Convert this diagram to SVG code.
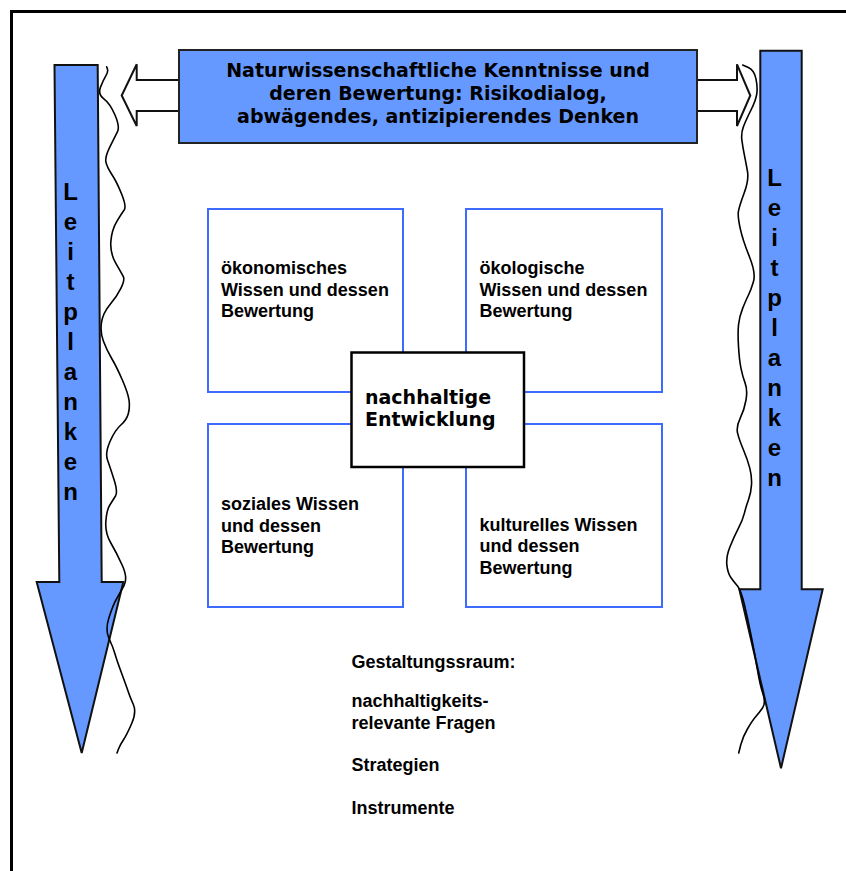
<svg xmlns="http://www.w3.org/2000/svg" width="846" height="871" viewBox="0 0 846 871">
<style>
.blue{fill:#6699FF;stroke:#111;stroke-width:2;stroke-linejoin:miter}
.hollow{fill:#fff;stroke:#111;stroke-width:2}
.quad{fill:#fff;stroke:#3D6BFF;stroke-width:2}
.wave{fill:none;stroke:#000;stroke-width:1.6;stroke-linejoin:round;stroke-linecap:round}
.t{font-family:"Liberation Sans",Arial,sans-serif;font-weight:bold;font-size:18px;fill:#000}
.v{font-family:"DejaVu Sans",Verdana,sans-serif;font-weight:bold;font-size:19px;fill:#000}
.lp{font-family:"Liberation Sans",Arial,sans-serif;font-weight:bold;font-size:24px;fill:#000;text-anchor:middle}
</style>
<rect width="846" height="871" fill="#fff"/>
<path d="M11.5,871 V11.5 H846" fill="none" stroke="#000" stroke-width="3"/>

<g id="arrow-left">
<polygon class="blue" points="54.5,65 97.7,65 101.7,582 123.3,582 81.7,753 36.7,582 59.3,582"/>
<text class="lp" x="70.5" y="200">L</text>
<text class="lp" x="70.5" y="230">e</text>
<text class="lp" x="70.5" y="260">i</text>
<text class="lp" x="70.5" y="290">t</text>
<text class="lp" x="70.5" y="320">p</text>
<text class="lp" x="70.5" y="350">l</text>
<text class="lp" x="70.5" y="380">a</text>
<text class="lp" x="70.5" y="410">n</text>
<text class="lp" x="70.5" y="440">k</text>
<text class="lp" x="70.5" y="470">e</text>
<text class="lp" x="70.5" y="500">n</text>
</g>

<g id="arrow-right">
<polygon class="blue" points="760.3,50.7 801.7,50.7 801.7,589.3 822.7,589.3 781,768.3 739.3,589.3 760.3,589.3"/>
<text class="lp" x="774.5" y="186">L</text>
<text class="lp" x="774.5" y="216">e</text>
<text class="lp" x="774.5" y="246">i</text>
<text class="lp" x="774.5" y="276">t</text>
<text class="lp" x="774.5" y="306">p</text>
<text class="lp" x="774.5" y="336">l</text>
<text class="lp" x="774.5" y="366">a</text>
<text class="lp" x="774.5" y="396">n</text>
<text class="lp" x="774.5" y="426">k</text>
<text class="lp" x="774.5" y="456">e</text>
<text class="lp" x="774.5" y="486">n</text>
</g>

<g id="connectors">
<polygon class="hollow" points="179,80 136.7,80 136.7,64.3 121.7,95.5 136.7,126 136.7,111 179,111"/>
<polygon class="hollow" points="697,80 737,80 737,64.3 750.3,95.5 737,126 737,111 697,111"/>
</g>

<g id="top-box">
<rect x="179" y="50" width="518" height="93" fill="#6699FF" stroke="#222" stroke-width="2"/>
<text class="v" text-anchor="middle"><tspan x="438" y="77">Naturwissenschaftliche Kenntnisse und</tspan><tspan x="438" y="100">deren Bewertung: Risikodialog,</tspan><tspan x="438" y="123">abwägendes, antizipierendes Denken</tspan></text>
</g>

<g id="waves">
<path class="wave" d="M106.7,66.7 L107.5,69.2 Q108.3,71.7 105.8,75.85 Q103.3,80 100.5,87.15 Q97.7,94.3 103.85,98.8 Q110,103.3 115,115 Q120,126.7 117.5,131.7 Q115,136.7 110,146.7 Q105,156.7 105.85,161.7 Q106.7,166.7 111.7,174.2 Q116.7,181.7 121.7,194.2 Q126.7,206.7 124.2,210 Q121.7,213.3 116.7,221.65 Q111.7,230 110.85,241.65 Q110,253.3 115.85,263.3 Q121.7,273.3 123.35,276.65 Q125,280 120.85,288.35 Q116.7,296.7 109.85,304.85 Q103,313 101.5,322.5 Q100,332 103.35,341 Q106.7,350 111.7,358.5 Q116.7,367 122.35,380 Q128,393 129,400 Q130,407 128.35,413.5 Q126.7,420 120.85,425 Q115,430 110,441.5 Q105,453 107.5,460 Q110,467 114,479.5 Q118,492 115.5,496 Q113,500 109.85,505 Q106.7,510 105.85,521.5 Q105,533 110.85,543 Q116.7,553 122.35,565.5 Q128,578 124,585.5 Q120,593 116.5,599 Q113,605 109,617.5 Q105,630 109,638.5 Q113,647 114.85,653.5 Q116.7,660 121.7,673.5 Q126.7,687 128.35,692 Q130,697 133.35,704.5 Q136.7,712 131.7,723.5 Q126.7,735 123.35,740 Q120,745 118.5,749 L117,753"/>
<path class="wave" d="M742.7,65 L748.35,67.5 Q754,70 755.85,78.35 Q757.7,86.7 756.85,93.35 Q756,100 751,110 Q746,120 743.5,126.5 Q741,133 741.85,139.85 Q742.7,146.7 744.35,154.85 Q746,163 747.5,171.5 Q749,180 744,193.5 Q739,207 738.35,211.85 Q737.7,216.7 740.2,228.35 Q742.7,240 749.35,256.5 Q756,273 753.5,281.5 Q751,290 748.5,295 Q746,300 742.65,308.35 Q739.3,316.7 738.5,324.85 Q737.7,333 738.5,346.5 Q739.3,360 741,368.35 Q742.7,376.7 745.2,383.35 Q747.7,390 746,400 Q744.3,410 740.15,418.35 Q736,426.7 737.65,433.35 Q739.3,440 743.5,450 Q747.7,460 749.85,468.35 Q752,476.7 751.5,484.85 Q751,493 748.5,499.85 Q746,506.7 744.35,513.35 Q742.7,520 738.35,528.35 Q734,536.7 730,546.7 Q726,556.7 726.85,564.85 Q727.7,573 730.85,577.5 Q734,582 737.5,586 Q741,590 744.5,605 Q748,620 751.5,637.5 Q755,655 757.5,670 Q760,685 763,694 Q766,703 762.5,708 Q759,713 755.85,716.5 Q752.7,720 747.7,728.5 Q742.7,737 740.7,745 L738.7,753"/>
</g>

<g id="q-oekonomisch">
<rect class="quad" x="208" y="209" width="195" height="183"/>
<text class="t"><tspan x="221" y="274">ökonomisches</tspan><tspan x="221" y="295.5">Wissen und dessen</tspan><tspan x="221" y="316.5">Bewertung</tspan></text>
</g>
<g id="q-oekologisch">
<rect class="quad" x="466" y="209" width="196" height="183"/>
<text class="t"><tspan x="479.5" y="274">ökologische</tspan><tspan x="479.5" y="295.5">Wissen und dessen</tspan><tspan x="479.5" y="316.5">Bewertung</tspan></text>
</g>
<g id="q-sozial">
<rect class="quad" x="208" y="424" width="195" height="183"/>
<text class="t"><tspan x="221" y="510">soziales Wissen</tspan><tspan x="221" y="531.5">und dessen</tspan><tspan x="221" y="553">Bewertung</tspan></text>
</g>
<g id="q-kulturell">
<rect class="quad" x="466" y="424" width="196" height="183"/>
<text class="t"><tspan x="479.5" y="531">kulturelles Wissen</tspan><tspan x="479.5" y="552">und dessen</tspan><tspan x="479.5" y="573.5">Bewertung</tspan></text>
</g>

<g id="center">
<rect x="351.5" y="352.5" width="172.5" height="114.5" fill="#fff" stroke="#000" stroke-width="2.5"/>
<text class="v"><tspan x="365" y="404">nachhaltige</tspan><tspan x="365" y="426">Entwicklung</tspan></text>
</g>

<g id="gestaltungsraum">
<text class="t"><tspan x="351.5" y="667.5">Gestaltungssraum:</tspan><tspan x="351.5" y="707">nachhaltigkeits-</tspan><tspan x="351.5" y="728.5">relevante Fragen</tspan><tspan x="351.5" y="771">Strategien</tspan><tspan x="351.5" y="814">Instrumente</tspan></text>
</g>
</svg>
